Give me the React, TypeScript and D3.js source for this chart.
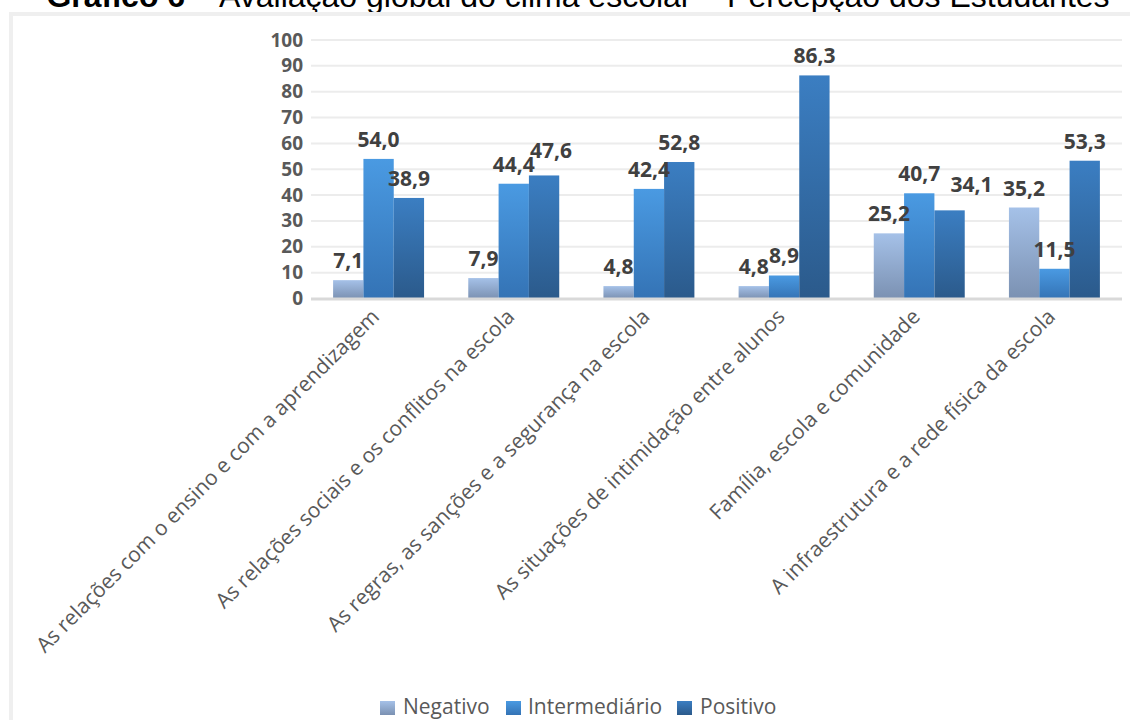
import React from "react";
import * as d3 from "d3";

const categories = [
  "As relações com o ensino e com a aprendizagem",
  "As relações sociais e os conflitos na escola",
  "As regras, as sanções e a segurança na escola",
  "As situações de intimidação entre alunos",
  "Família, escola e comunidade",
  "A infraestrutura e a rede física da escola",
];
const seriesNames = ["Negativo", "Intermediário", "Positivo"];
const negativo = [7.1, 7.9, 4.8, 4.8, 25.2, 35.2];
const intermediario = [54.0, 44.4, 42.4, 8.9, 40.7, 11.5];
const positivo = [38.9, 47.6, 52.8, 86.3, 34.1, 53.3];
const yTicks = [0, 10, 20, 30, 40, 50, 60, 70, 80, 90, 100];

// manual label nudges (category index - series index) as placed in the original
const labelNudges: Record<string, [number, number]> = {
  "1-2": [7, -5],
  "4-2": [22, -6],
};

const seriesValues = [negativo, intermediario, positivo];
const gradients = [
  { id: "gNeg", top: "#a5c1e8", bottom: "#7b91b2" },
  { id: "gInt", top: "#4a9ae2", bottom: "#3473b5" },
  { id: "gPos", top: "#3b7ec2", bottom: "#2b5a8b" },
];

const W = 1130;
const H = 720;
const plot = { left: 311, right: 1122, top: 40, bottom: 298.5 };

export default function App() {
  const x0 = d3
    .scaleBand<string>()
    .domain(categories)
    .range([plot.left, plot.right])
    .paddingInner(0.327)
    .paddingOuter(0.1635);
  const x1 = d3
    .scaleBand<string>()
    .domain(seriesNames)
    .range([0, x0.bandwidth()]);
  const y = d3.scaleLinear().domain([0, 100]).range([plot.bottom, plot.top]);
  const fmt = (v: number) => v.toFixed(1).replace(".", ",");

  return (
    <svg
      width={W}
      height={H}
      style={{ position: "absolute", left: 0, top: 0, background: "#fff" }}
    >
      <defs>
        {gradients.map((g) => (
          <linearGradient key={g.id} id={g.id} x1="0" y1="0" x2="0" y2="1">
            <stop offset="0" stopColor={g.top} />
            <stop offset="1" stopColor={g.bottom} />
          </linearGradient>
        ))}
      </defs>
      <rect x={0} y={0} width={W} height={H} fill="#fff" />
      {/* title (cut at top) */}
      <text
        x={578}
        y={6.5}
        textAnchor="middle"
        fontFamily="'Liberation Sans', Arial, sans-serif"
        fontSize={32}
        fill="#000"
      >
        <tspan fontWeight="bold">Gráfico 6</tspan>
        <tspan> – Avaliação global do clima escolar – Percepção dos Estudantes</tspan>
      </text>
      {/* chart border */}
      <rect x={11} y={14} width={1300} height={900} fill="#fff" stroke="#efefef" strokeWidth={4} />
      {/* gridlines */}
      {yTicks.filter((t) => t > 0).map((t) => (
        <line key={t} x1={plot.left} x2={plot.right} y1={y(t)} y2={y(t)} stroke="#ececec" strokeWidth={2} />
      ))}
      {/* y tick labels */}
      {yTicks.map((t) => (
        <text
          key={"yl" + t}
          x={303}
          y={y(t) + 6.5}
          textAnchor="end"
          fontFamily="'Open Sans', sans-serif"
          fontWeight="bold"
          fontSize={19}
          fill="#595959"
        >
          {t}
        </text>
      ))}
      {/* bars */}
      {categories.map((c, i) =>
        seriesNames.map((s, j) => {
          const v = seriesValues[j][i];
          return (
            <rect
              key={c + s}
              x={(x0(c) ?? 0) + (x1(s) ?? 0)}
              y={y(v)}
              width={x1.bandwidth()}
              height={y(0) - y(v)}
              fill={`url(#${gradients[j].id})`}
            />
          );
        })
      )}
      {/* baseline */}
      <line x1={plot.left} x2={plot.right} y1={y(0) + 0.5} y2={y(0) + 0.5} stroke="#d9d9d9" strokeWidth={3} />
      {/* data labels */}
      {categories.map((c, i) =>
        seriesNames.map((s, j) => {
          const v = seriesValues[j][i];
          const [dx, dy] = labelNudges[`${i}-${j}`] ?? [0, 0];
          return (
            <text
              key={"dl" + c + s}
              x={(x0(c) ?? 0) + (x1(s) ?? 0) + x1.bandwidth() / 2 + dx}
              y={y(v) - 12 + dy}
              textAnchor="middle"
              fontFamily="'Open Sans', sans-serif"
              fontWeight="bold"
              fontSize={21}
              fill="#404040"
            >
              {fmt(v)}
            </text>
          );
        })
      )}
      {/* category labels */}
      {categories.map((c) => {
        const cx = (x0(c) ?? 0) + x0.bandwidth() / 2 + 2;
        const cy = 318;
        return (
          <text
            key={"cl" + c}
            transform={`translate(${cx},${cy}) rotate(-45)`}
            textAnchor="end"
            fontFamily="'Open Sans', sans-serif"
            fontSize={21}
            fill="#595959"
          >
            {c}
          </text>
        );
      })}
      {/* legend */}
      {[
        { x: 380, tx: 403 },
        { x: 506, tx: 528 },
        { x: 677, tx: 700 },
      ].map((p, j) => (
        <g key={"lg" + j}>
          <rect x={p.x} y={701} width={15} height={14} fill={`url(#${gradients[j].id})`} />
          <text
            x={p.tx}
            y={714}
            fontFamily="'Open Sans', sans-serif"
            fontSize={21}
            fill="#595959"
          >
            {seriesNames[j]}
          </text>
        </g>
      ))}
    </svg>
  );
}
